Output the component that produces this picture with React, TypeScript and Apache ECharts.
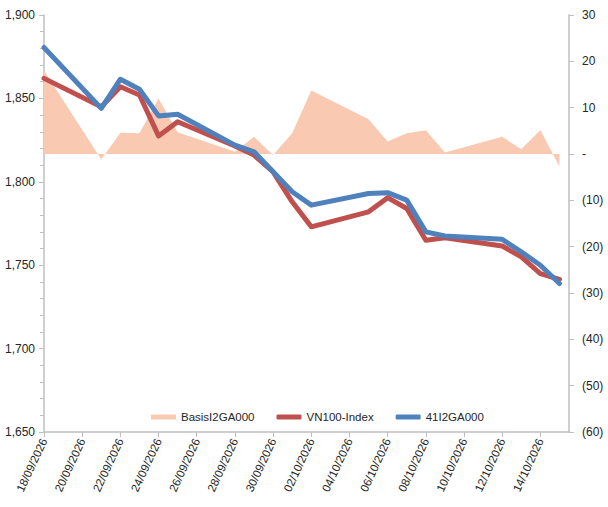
import React, { useEffect, useRef } from "react";
import * as echarts from "echarts";

const dates = [
  "18/09/2026", "21/09/2026", "22/09/2026", "23/09/2026", "24/09/2026", "25/09/2026",
  "28/09/2026", "29/09/2026", "30/09/2026", "01/10/2026", "02/10/2026",
  "05/10/2026", "06/10/2026", "07/10/2026", "08/10/2026", "09/10/2026",
  "12/10/2026", "13/10/2026", "14/10/2026", "15/10/2026",
];
const basis = [18, -1.2, 4.6, 4.5, 12, 4.7, 0.5, 3.7, -0.2, 4.5, 13.7, 7.5, 2.7, 4.5, 5.1, 0.3, 3.7, 1.0, 5.2, -2.7];
const vn100 = [1862, 1845, 1857, 1852, 1827.5, 1836, 1821.5, 1816, 1806, 1788, 1773, 1782, 1790.5, 1784, 1765, 1766.5, 1761.5, 1755, 1745, 1741.5];
const fut = [1880.5, 1844, 1861.5, 1855.5, 1839.5, 1840.5, 1822, 1818, 1806, 1794, 1786, 1793, 1793.5, 1789, 1770, 1767.5, 1765.5, 1758, 1750, 1739];

const seriesNames = ["BasisI2GA000", "VN100-Index", "41I2GA000"];
const startDate = "18/09/2026";
const xMaxDays = 27.5;

const toUTC = (s: string) => {
  const [d, m, y] = s.split("/").map(Number);
  return Date.UTC(y, m - 1, d);
};
const DAY = 86400000;
const base = toUTC(startDate);
const dayOffset = (s: string) => (toUTC(s) - base) / DAY;
const fmtDay = (v: number) => {
  const dt = new Date(base + v * DAY);
  const dd = String(dt.getUTCDate()).padStart(2, "0");
  const mm = String(dt.getUTCMonth() + 1).padStart(2, "0");
  return `${dd}/${mm}/${dt.getUTCFullYear()}`;
};

export default function App() {
  const ref = useRef<HTMLDivElement>(null);
  useEffect(() => {
    if (!ref.current) return;
    const chart = echarts.init(ref.current, undefined, { renderer: "svg" });
    const font = "'Liberation Sans', Arial, sans-serif";
    const axisColor = "#BFBFBF";
    const textColor = "#262626";
    chart.setOption({
      animation: false,
      backgroundColor: "#ffffff",
      textStyle: { fontFamily: font },
      grid: { left: 44, right: 39, top: 15, height: 417 },
      legend: {
        left: 146,
        top: 406,
        itemWidth: 25,
        itemHeight: 5,
        itemGap: 22,
        textStyle: { fontFamily: font, fontSize: 11.5, color: textColor },
        data: [
          { name: seriesNames[0], icon: "rect" },
          { name: seriesNames[1], icon: "roundRect" },
          { name: seriesNames[2], icon: "roundRect" },
        ],
      },
      xAxis: {
        type: "value",
        min: 0,
        max: xMaxDays,
        interval: 2,
        splitLine: { show: false },
        axisLine: { show: true, onZero: false, lineStyle: { color: axisColor, width: 1.5 } },
        axisTick: { show: true, length: 5, lineStyle: { color: axisColor } },
        axisLabel: {
          rotate: 65,
          showMaxLabel: false,
          fontFamily: font,
          fontSize: 11.5,
          color: textColor,
          margin: 7,
          formatter: (v: number) => (v > 26 ? "" : fmtDay(v)),
        },
      },
      yAxis: [
        {
          type: "value",
          min: 1650,
          max: 1900,
          interval: 50,
          position: "left",
          splitLine: { show: false },
          axisLine: { show: true, onZero: false, lineStyle: { color: axisColor, width: 1.5 } },
          axisTick: { show: true, length: 5, lineStyle: { color: axisColor } },
          minorTick: { show: true, splitNumber: 5, length: 4, lineStyle: { color: axisColor } },
          axisLabel: {
            fontFamily: font,
            fontSize: 12,
            color: textColor,
            margin: 9,
            formatter: (v: number) => v.toLocaleString("en-US"),
          },
        },
        {
          type: "value",
          min: -60,
          max: 30,
          interval: 10,
          position: "right",
          splitLine: { show: false },
          axisLine: { show: true, onZero: false, lineStyle: { color: axisColor, width: 1.5 } },
          axisTick: { show: true, length: 5, lineStyle: { color: axisColor } },
          axisLabel: {
            fontFamily: font,
            fontSize: 12,
            color: textColor,
            margin: 13,
            formatter: (v: number) => (v === 0 ? "-" : v < 0 ? `(${-v})` : String(v)),
          },
        },
      ],
      series: [
        {
          name: seriesNames[0],
          type: "line",
          yAxisIndex: 1,
          symbol: "none",
          z: 1,
          color: "#FAC9B2",
          lineStyle: { width: 0 },
          areaStyle: { color: "#FAC9B2", opacity: 1 },
          data: dates.map((d, i) => [dayOffset(d), basis[i]]),
        },
        {
          name: seriesNames[1],
          type: "line",
          yAxisIndex: 0,
          symbol: "none",
          z: 2,
          color: "#C0504D",
          lineStyle: { width: 5, color: "#C0504D", cap: "round", join: "round" },
          data: dates.map((d, i) => [dayOffset(d), vn100[i]]),
        },
        {
          name: seriesNames[2],
          type: "line",
          yAxisIndex: 0,
          symbol: "none",
          z: 3,
          color: "#4F81BD",
          lineStyle: { width: 5, color: "#4F81BD", cap: "round", join: "round" },
          data: dates.map((d, i) => [dayOffset(d), fut[i]]),
        },
      ],
    });
    return () => chart.dispose();
  }, []);
  return (
    <div
      ref={ref}
      style={{ position: "fixed", left: 0, top: 0, width: 608, height: 507 }}
    />
  );
}
